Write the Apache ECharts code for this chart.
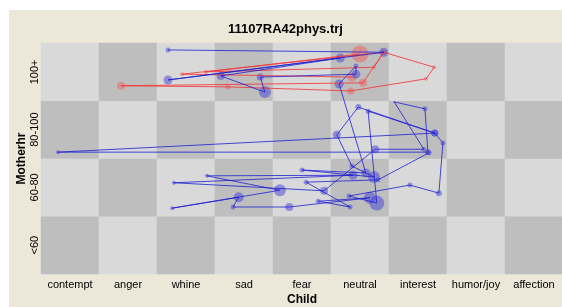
<!DOCTYPE html>
<html>
<head>
<meta charset="utf-8">
<script src="https://cdn.jsdelivr.net/npm/echarts@6/dist/echarts.min.js"></script>
<style>
  html, body { margin: 0; padding: 0; background: #ffffff; }
  #chart { position: absolute; left: 9px; top: 10px; width: 553px; height: 297px; }
</style>
</head>
<body>
<div id="chart"></div>
<script>
const childCats = ['contempt', 'anger', 'whine', 'sad', 'fear', 'neutral', 'interest', 'humor/joy', 'affection']
const motherCats = ['<60', '60-80', '80-100', '100+']

// blue trajectory: child position, mother position (cell units), point size
const blueChild = [2.19, 5.91, 2.19, 5.16, 3.10, 3.86, 3.78, 5.43, 5.43, 5.14, 5.60, 4.50, 5.74, 5.36, 5.10,
  5.47, 6.79, 6.93, 6.86, 6.36, 5.31, 5.79, 5.64, 6.79, 0.29, 6.67, 6.62, 6.09, 6.60, 5.76,
  4.88, 2.29, 5.38, 2.86, 4.12, 2.26, 3.41, 3.31, 4.28, 5.67, 4.78, 5.33, 4.57, 5.81, 6.69]
const blueMother = [3.88, 3.84, 3.36, 3.74, 3.43, 3.15, 3.41, 3.46, 3.60, 3.29, 1.75, 1.80, 1.68, 1.87, 2.41,
  2.89, 2.44, 2.27, 1.40, 1.54, 1.35, 1.23, 2.82, 2.44, 2.11, 2.11, 2.86, 2.98, 2.16, 2.16,
  1.44, 1.58, 1.71, 1.70, 1.45, 1.14, 1.33, 1.16, 1.16, 1.32, 1.26, 1.16, 1.59, 1.63, 2.10]
const blueSize = [5, 9, 9, 9, 8, 12, 7, 9, 5, 9, 9, 5, 12, 5, 8,
  6, 7, 5, 6, 5, 5, 15, 5, 7, 4, 6, 5, 2, 5, 8,
  8, 4, 9, 4, 12, 4, 10, 5, 8, 12, 5, 5, 5, 5, 5]

// red trajectory
const redChild = [5.50, 2.84, 5.74, 5.91, 6.78, 6.64, 5.34, 3.22, 1.38, 5.55, 5.91, 2.43, 5.36]
const redMother = [3.81, 3.50, 3.58, 3.84, 3.58, 3.38, 3.17, 3.24, 3.26, 3.31, 3.84, 3.46, 3.41]
const redSize = [17, 4, 4, 5, 4, 4, 7, 5, 8, 8, 5, 4, 9]

const blueData = blueChild.map((x, i) => [x, blueMother[i], blueSize[i]])
const redData = redChild.map((x, i) => [x, redMother[i], redSize[i]])

// checkerboard background cells
const cells = []
childCats.forEach((c, i) => {
  motherCats.forEach((m, j) => {
    cells.push([i, j, (i + j) % 2])
  })
})

const font = 'Liberation Sans, Arial, sans-serif'
const chart = echarts.init(document.getElementById('chart'))

chart.setOption({
  animation: false,
  backgroundColor: '#ebe8d9',
  title: {
    text: '11107RA42phys.trj',
    left: 'center',
    top: 8,
    textStyle: { fontFamily: font, fontSize: 13, fontWeight: 'bold', color: '#000' }
  },
  grid: { left: 32, top: 33, width: 522, height: 231, outerBoundsMode: 'none', containLabel: false },
  visualMap: {
    show: false,
    type: 'piecewise',
    seriesIndex: 0,
    dimension: 2,
    pieces: [
      { value: 0, color: '#bebebe' },
      { value: 1, color: '#d9d9d9' }
    ]
  },
  xAxis: [
    {
      type: 'category',
      data: childCats,
      name: 'Child',
      nameLocation: 'middle',
      nameGap: 20,
      nameMoveOverlap: false,
      nameTextStyle: { fontFamily: font, fontSize: 12, fontWeight: 'bold', color: '#000' },
      axisLine: { show: false },
      axisTick: { show: false },
      splitLine: { show: false },
      axisLabel: { fontFamily: font, fontSize: 11, color: '#000', margin: 5, interval: 0 }
    },
    { type: 'value', min: 0, max: 9, show: false }
  ],
  yAxis: [
    {
      type: 'category',
      data: motherCats,
      name: 'Motherhr',
      nameLocation: 'middle',
      nameGap: 13,
      nameMoveOverlap: false,
      nameTextStyle: { fontFamily: font, fontSize: 12, fontWeight: 'bold', color: '#000' },
      axisLine: { show: false },
      axisTick: { show: false },
      splitLine: { show: false },
      axisLabel: { fontFamily: font, fontSize: 11, color: '#000', rotate: 90, margin: 1, interval: 0 }
    },
    { type: 'value', min: 0, max: 4, show: false }
  ],
  series: [
    {
      type: 'heatmap',
      xAxisIndex: 0,
      yAxisIndex: 0,
      data: cells,
      silent: true
    },
    {
      type: 'line',
      xAxisIndex: 1,
      yAxisIndex: 1,
      data: redData,
      showSymbol: false,
      lineStyle: { color: 'rgba(245, 55, 55, 0.85)', width: 1 }
    },
    {
      type: 'scatter',
      xAxisIndex: 1,
      yAxisIndex: 1,
      data: redData,
      symbolSize: (v) => v[2],
      itemStyle: { color: 'rgba(240, 90, 90, 0.6)' }
    },
    {
      type: 'line',
      xAxisIndex: 1,
      yAxisIndex: 1,
      data: blueData,
      showSymbol: false,
      lineStyle: { color: 'rgba(30, 30, 210, 0.8)', width: 1 }
    },
    {
      type: 'scatter',
      xAxisIndex: 1,
      yAxisIndex: 1,
      data: blueData,
      symbolSize: (v) => v[2],
      itemStyle: { color: 'rgba(60, 60, 215, 0.6)' }
    }
  ]
})
</script>
</body>
</html>
